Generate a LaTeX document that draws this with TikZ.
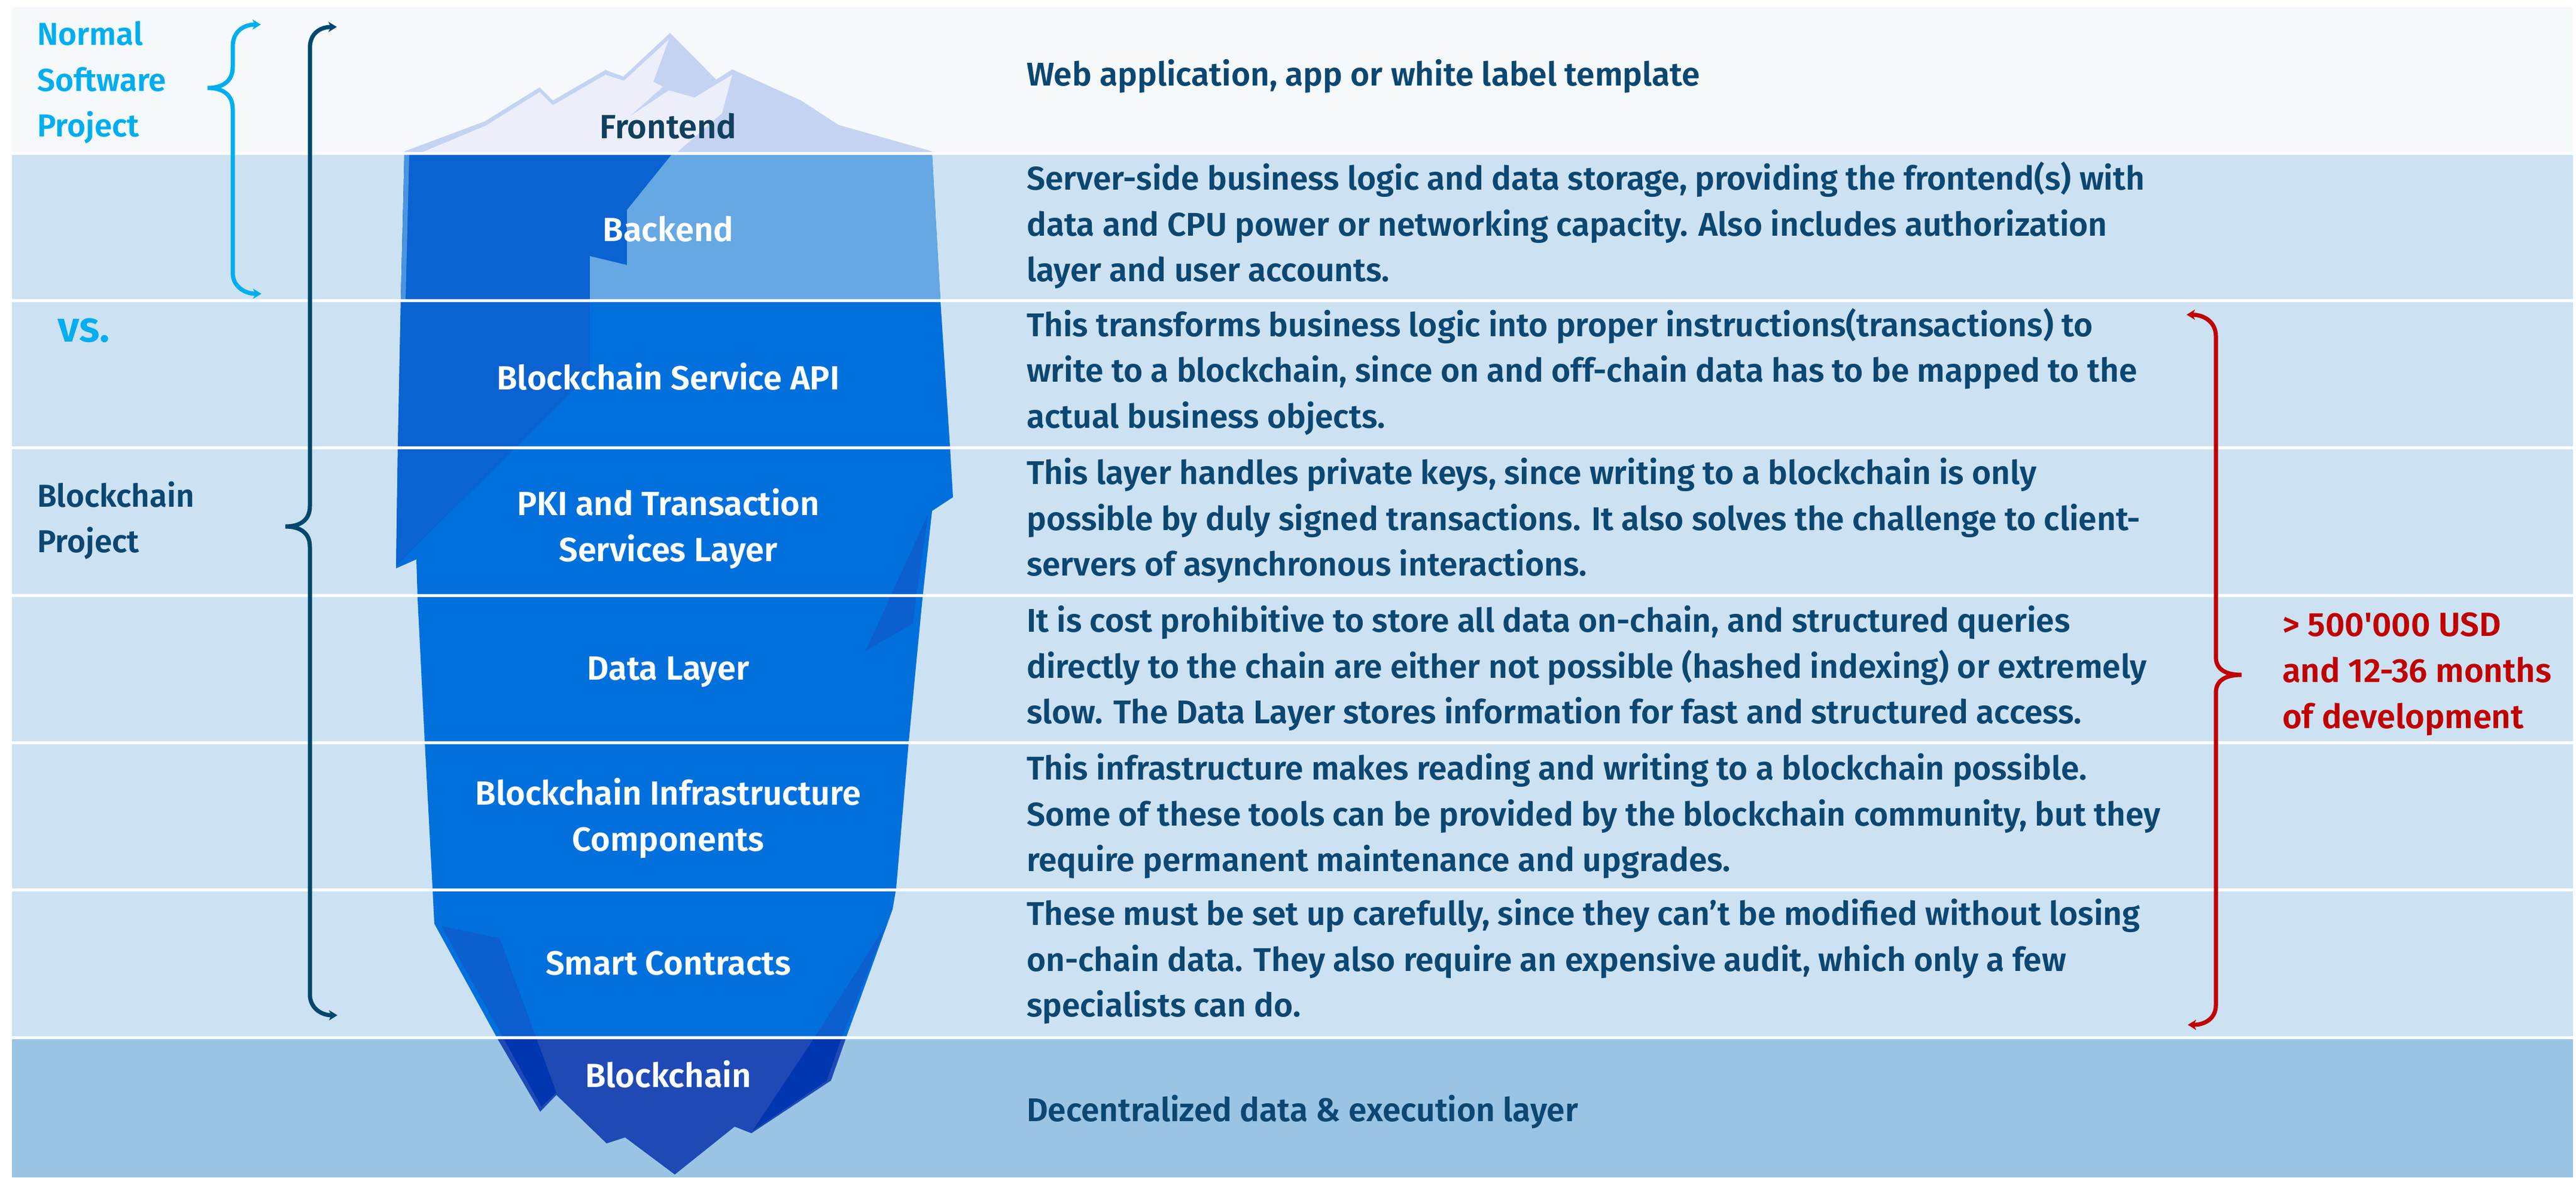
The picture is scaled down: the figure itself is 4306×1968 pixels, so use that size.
\documentclass[tikz,border=0pt]{standalone}
\usepackage{fontspec}
\setmainfont{Fira Sans}[UprightFont=* SemiBold, BoldFont=* Bold]
\usetikzlibrary{arrows.meta}
\definecolor{topband}{HTML}{F5F9FC}
\definecolor{midband}{HTML}{CCE2F2}
\definecolor{botband}{HTML}{99C4E4}
\definecolor{navy}{HTML}{0B4771}
\definecolor{navydark}{HTML}{10405E}
\definecolor{bracenavy}{HTML}{00476E}
\definecolor{cyanc}{HTML}{00AEEF}
\definecolor{redc}{HTML}{C00000}
\definecolor{tipout}{HTML}{C4D3F1}
\definecolor{tiplight}{HTML}{ECEFF9}
\definecolor{body}{HTML}{0270DC}
\definecolor{backlight}{HTML}{66A8E3}
\definecolor{edgelight}{HTML}{4A94E2}
\definecolor{darkshard}{HTML}{0A63D0}
\definecolor{shard}{HTML}{0B5FCE}
\definecolor{deep}{HTML}{1F4AB5}
\definecolor{deepshard}{HTML}{0036B0}
\begin{document}
\begin{tikzpicture}[x=1pt,y=-1pt,
  bt/.tip={Stealth[length=14pt,width=17pt,inset=4pt]},
  bracecyan/.style={draw=cyanc,line width=7pt,arrows={bt-bt}},
  bracenv/.style={draw=bracenavy,line width=7pt,arrows={bt-bt}},
  bracered/.style={draw=redc,line width=7pt,arrows={bt-bt}},
  sepline/.style={draw=white,line width=5pt},
  desc/.style={text=navy,font=\fontsize{55}{76.5}\selectfont,inner sep=0pt,align=left,anchor=west},
  lbl/.style={text=white,font=\fontsize{56}{77}\selectfont,inner sep=0pt,align=center},
  sidelbl/.style={font=\fontsize{53}{76.5}\selectfont,inner sep=0pt,align=left,anchor=west},
  redlbl/.style={text=redc,font=\fontsize{56}{77}\selectfont,inner sep=0pt,align=left,anchor=west}
]
\useasboundingbox (0,0) rectangle (4306,1968);
\fill[white] (0,0) rectangle (4306,1968);
% bands
\fill[topband] (20,12) rectangle (4301,256);
\fill[midband] (20,256) rectangle (4301,1734);
\fill[botband] (20,1734) rectangle (4301,1968);

% iceberg tip
\fill[tipout] (676,256) -- (676,253) -- (810,203) -- (902,146) -- (924,168) -- (1012,117) -- (1042,128) -- (1120,55) -- (1197,133) -- (1224,116) -- (1339,168) -- (1402,209) -- (1558,253) -- (1558,256) -- cycle;
\fill[tiplight] (702,256) -- (812,210) -- (902,154) -- (924,176) -- (1012,125) -- (1043,135) -- (1118,66) -- (1092,137) -- (1108,145) -- (1052,195) -- (1118,151) -- (1161,163) -- (1224,125) -- (1207,189) -- (1130,256) -- cycle;

% iceberg body
\def\bodypath{(676,258) -- (1558,258) -- (1572,502) -- (1588,747) -- (1593,831) -- (1558,854) -- (1542,1000) -- (1519,1240) -- (1498,1485) -- (1492,1520) -- (1414,1735) -- (1389,1806) -- (1256,1894) -- (1228,1883) -- (1128,1963) -- (1045,1901) -- (1014,1911) -- (930,1830) -- (903,1858) -- (831,1735) -- (726,1544) -- (723,1485) -- (710,1240) -- (698,1000) -- (696,935) -- (662,950) -- (665,747) -- (670,502) -- cycle}
\fill[body] \bodypath;
\begin{scope}
\clip \bodypath;
% left dark shard (backend + service API)
\fill[darkshard] (660,258) -- (1123,258) -- (1048,351) -- (1048,443) -- (986,428) -- (986,625) -- (663,945) -- (650,945) -- (650,258) -- cycle;
% backend light right face
\fill[backlight] (1123,258) -- (1600,258) -- (1600,502) -- (986,502) -- (986,428) -- (1048,443) -- (1048,351) -- cycle;
% light left edge strip
\fill[edgelight] (660,258) -- (684,258) -- (678,502) -- (660,502) -- cycle;
% right shard (PKI / data)
\fill[shard] (1552,858) -- (1531,1000) -- (1526,1042) -- (1447,1088) -- cycle;
% lower shards
\fill[shard] (738,1548) -- (835,1568) -- (930,1826) -- (905,1850) -- cycle;
\fill[shard] (1480,1548) -- (1405,1740) -- (1382,1806) -- (1258,1890) -- (1361,1735) -- cycle;
% below water
\fill[deep] (600,1736) rectangle (1700,1968);
\begin{scope}
\clip (600,1736) rectangle (1700,1968);
\fill[deepshard] (738,1548) -- (835,1568) -- (930,1826) -- (905,1850) -- cycle;
\fill[deepshard] (1480,1548) -- (1405,1740) -- (1382,1806) -- (1258,1890) -- (1361,1735) -- cycle;
\end{scope}
\end{scope}

% separators
\foreach \yy in {256,502,748.5,995,1241,1487.5,1734}{
  \draw[sepline] (20,\yy) -- (4301,\yy);
}

% iceberg labels
\node[lbl,text=navydark] (lfront) at (1117,211) {Frontend};
\node[lbl] (lback) at (1117,383) {Backend};
\node[lbl] (lapi) at (1117,629) {Blockchain Service API};
\node[lbl] (lpki) at (1117,884) {PKI and Transaction\\Services Layer};
\node[lbl] (ldata) at (1117,1123) {Data Layer};
\node[lbl] (linfra) at (1117,1368) {Blockchain Infrastructure\\Components};
\node[lbl] (lsmart) at (1117,1610) {Smart Contracts};
\node[lbl] (lchain) at (1117,1795) {Blockchain};

% descriptions
\node[desc] (d1) at (1716,127) {Web application, app or white label template};
\node[desc] (d2) at (1716,377) {Server-side business logic and data storage, providing the frontend(s) with\\data and CPU power or networking capacity. Also includes authorization\\layer and user accounts.};
\node[desc] (d3) at (1716,621) {This transforms business logic into proper instructions(transactions) to\\write to a blockchain, since on and off-chain data has to be mapped to the\\actual business objects.};
\node[desc] (d4) at (1716,870) {This layer handles private keys, since writing to a blockchain is only\\possible by duly signed transactions. It also solves the challenge to client-\\servers of asynchronous interactions.};
\node[desc] (d5) at (1716,1117) {It is cost prohibitive to store all data on-chain, and structured queries\\directly to the chain are either not possible (hashed indexing) or extremely\\slow. The Data Layer stores information for fast and structured access.};
\node[desc] (d6) at (1716,1364) {This infrastructure makes reading and writing to a blockchain possible.\\Some of these tools can be provided by the blockchain community, but they\\require permanent maintenance and upgrades.};
\node[desc] (d7) at (1716,1607) {These must be set up carefully, since they can’t be modified without losing\\on-chain data. They also require an expensive audit, which only a few\\specialists can do.};
\node[desc] (d8) at (1716,1858) {Decentralized data \& execution layer};

% side labels
\node[sidelbl,text=cyanc] (normal) at (62,138) {Normal\\Software\\Project};
\node[sidelbl,text=cyanc,font=\fontsize{72}{80}\selectfont,anchor=base west] (vs) at (96,571) {vs.};
\node[sidelbl,text=navy] (bcproj) at (62,870) {Blockchain\\Project};
\node[redlbl] (cost) at (3815,1127) {> 500\textquotesingle 000 USD\\and 12-36 months\\of development};

% braces
\draw[bracecyan] (436,41) .. controls (408,41) and (389,52) .. (389,78) -- (389,112) .. controls (389,136) and (372,147) .. (347,147) .. controls (372,147) and (389,158) .. (389,182) -- (389,456) .. controls (389,478) and (408,491) .. (437,491);
\draw[bracenv] (563,45) .. controls (535,45) and (518,56) .. (518,80) -- (518,846) .. controls (518,870) and (501,880) .. (477,880) .. controls (501,880) and (518,890) .. (518,914) -- (518,1662) .. controls (518,1684) and (536,1697) .. (564,1697);
\draw[bracered] (3655,526) .. controls (3684,526) and (3704,538) .. (3704,562) -- (3704,1098) .. controls (3704,1120) and (3722,1128) .. (3747,1128) .. controls (3722,1128) and (3704,1136) .. (3704,1158) -- (3704,1680) .. controls (3704,1702) and (3686,1713) .. (3657,1713);
\end{tikzpicture}
\end{document}
